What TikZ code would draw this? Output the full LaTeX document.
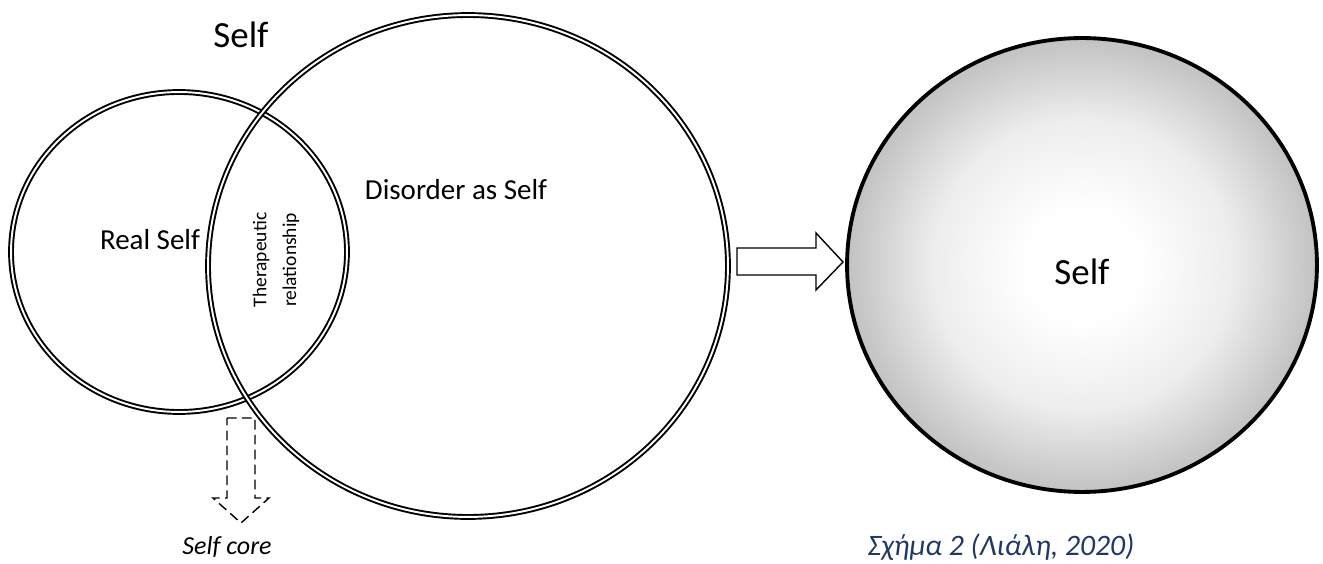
\documentclass[tikz,border=0pt]{standalone}
\usepackage{fontspec}
\setmainfont{Carlito}
\usetikzlibrary{shapes.geometric}
\definecolor{captionblue}{RGB}{31,56,100}
\pgfdeclareradialshading{selfglow}{\pgfpoint{0bp}{0bp}}{color(0bp)=(white); color(6bp)=(white); color(16bp)=(black!7); color(25bp)=(black!24); color(50bp)=(black!24)}

\begin{document}
\begin{tikzpicture}[x=0.02cm, y=-0.02cm,
    ring/.style={ellipse, draw, line width=1.1pt, double=white, double distance=1.1pt, inner sep=0pt},
    txt/.style={inner sep=0pt, font=\fontsize{16.5}{20}\selectfont},
    blockarrow/.style={draw, line width=.8pt, line join=miter}]
  \useasboundingbox (0,0) rectangle (1323,564);

  % the two overlapping selves
  \node (real) [ring, minimum width=6.72cm, minimum height=6.4cm] at (179,252) {};
  \node (disorder) [ring, minimum width=10.4cm, minimum height=10.04cm] at (468,266) {};
  \node (whole) [ellipse, draw, line width=2.2pt, shading=selfglow, minimum width=9.4cm, minimum height=9.08cm] at (1082,265) {};

  \node (selflabel) [inner sep=0pt, font=\fontsize{21}{25}\selectfont] at (241,35) {Self};
  \node (reallabel) [txt] at (150,240) {Real Self};
  \node (disorderlabel) [txt] at (456,190) {Disorder as Self};
  \node (therapy) [rotate=90, align=center, inner sep=0pt, font=\fontsize{11.1}{17}\selectfont] at (276,260) {Therapeutic\\relationship};
  \node (wholelabel) [inner sep=0pt, font=\fontsize{21}{25}\selectfont] at (1082,272) {Self};

  \node (corelabel) [inner sep=0pt, font=\itshape\fontsize{14.8}{18}\selectfont] at (227,547) {Self core};
  \node (caption) [inner sep=0pt, text=captionblue, font=\itshape\fontsize{16.9}{20}\selectfont] at (1001,547) {Σχήμα 2 (Λιάλη, 2020)};

  % block arrows
  \draw[blockarrow] (737,248) -- (816,248) -- (816,233) -- (843,262) -- (816,290) -- (816,275) -- (737,275) -- cycle;
  \draw[blockarrow, dash pattern=on 5.5pt off 3pt] (227,418) -- (255,418) -- (255,498) -- (269,498) -- (241,523) -- (213,498) -- (227,498) -- cycle;
\end{tikzpicture}
\end{document}
